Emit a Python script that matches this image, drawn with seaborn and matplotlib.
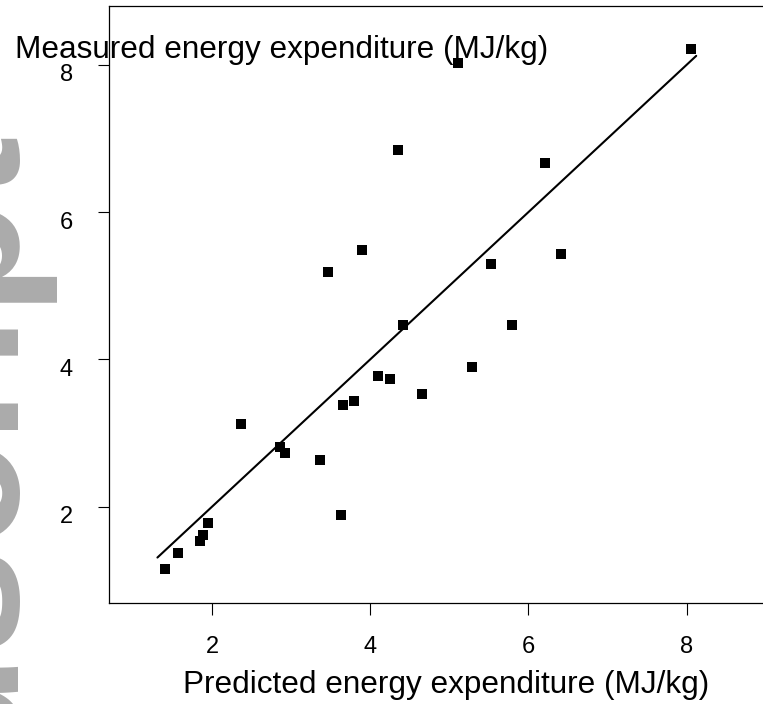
import matplotlib
matplotlib.use("Agg")
import matplotlib.pyplot as plt
import matplotlib.transforms as mtransforms
import seaborn as sns
import pandas as pd

# ---- data ----
predicted = [8.06, 5.11, 4.35, 6.21, 3.90, 3.47, 5.53, 6.41, 4.41, 5.79, 5.28,
             4.10, 4.25, 4.66, 3.79, 3.65, 2.37, 2.86, 2.92, 3.37, 3.63, 1.95,
             1.88, 1.85, 1.57, 1.40]
measured = [8.21, 8.03, 6.84, 6.67, 5.49, 5.18, 5.29, 5.43, 4.47, 4.46, 3.89,
            3.77, 3.74, 3.53, 3.44, 3.38, 3.12, 2.81, 2.73, 2.63, 1.89, 1.78,
            1.62, 1.53, 1.37, 1.15]
identity_x = [1.31, 8.12]
identity_y = [1.31, 8.12]
x_ticks = [2, 4, 6, 8]
y_ticks = [2, 4, 6, 8]
x_label = "Predicted energy expenditure (MJ/kg)"
y_label = "Measured energy expenditure (MJ/kg)"
watermark = "Author Manuscript"

sns.set_theme(style="white")
plt.rcParams['font.family'] = ['Liberation Sans', 'DejaVu Sans']

W, H = 763, 704
fig = plt.figure(figsize=(W / 100, H / 100), dpi=100)
ax = fig.add_axes([109 / W, 101.3 / H, 654 / W, 596.7 / H])

df = pd.DataFrame({"Predicted": predicted, "Measured": measured})
line_df = pd.DataFrame({"x": identity_x, "y": identity_y})

sns.lineplot(data=line_df, x="x", y="y", ax=ax, color="black", linewidth=1.5,
             estimator=None, sort=False)
sns.scatterplot(data=df, x="Predicted", y="Measured", ax=ax, marker="s", s=62,
                color="black", linewidth=0, zorder=3)

ax.set_xlim(0.698, 8.964)
ax.set_ylim(0.697, 8.797)
ax.set_xticks(x_ticks)
ax.set_yticks(y_ticks)
ax.set_xticklabels([str(t) for t in x_ticks])
ax.set_yticklabels([str(t) for t in y_ticks])

ax.tick_params(axis="x", direction="out", length=8.6, width=0.8, pad=15.6,
               labelsize=17, colors="black", bottom=True)
ax.tick_params(axis="y", direction="out", length=7.9, width=0.8, pad=18,
               labelsize=17, colors="black", left=True)

for s in ["left", "bottom", "top"]:
    ax.spines[s].set_visible(True)
    ax.spines[s].set_color("black")
    ax.spines[s].set_linewidth(0.9)
ax.spines["right"].set_visible(False)

ax.set_xlabel(x_label, fontsize=22.7, ha="center", va="baseline", color="black")
ax.xaxis.set_label_coords((446.5 - 109) / 654, (704 - 693.3 - 101.3) / 596.7)
ax.set_ylabel(y_label, fontsize=22.7, rotation=0, ha="left", va="baseline",
              color="black")
ax.yaxis.set_label_coords((15 - 109) / 654, (704 - 58.5 - 101.3) / 596.7)

offset = mtransforms.ScaledTranslation(0, -8 / 100, fig.dpi_scale_trans)
for lab in ax.get_yticklabels():
    lab.set_transform(lab.get_transform() + offset)

fig.text(19 / W, 569 / H, watermark, rotation=90, rotation_mode="anchor",
         ha="right", va="baseline", fontsize=137, fontweight="bold",
         color="#ababab", zorder=0)

fig.savefig("out.png", dpi=100)
